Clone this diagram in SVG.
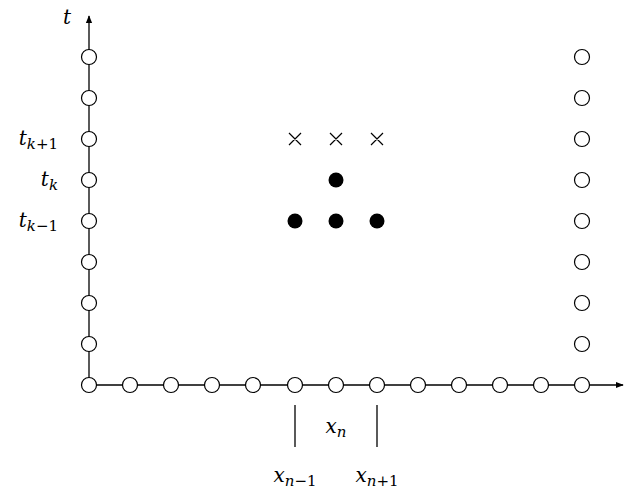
<svg xmlns="http://www.w3.org/2000/svg" width="631" height="491" viewBox="0 0 631 491">
<style>
.ax{stroke:#000;stroke-width:1.3;fill:none}
.o{fill:#fff;stroke:#000;stroke-width:1.2}
.f{fill:#000}
.x{stroke:#000;stroke-width:1.2}
.tk{stroke:#000;stroke-width:1.3}
text{font-family:"DejaVu Serif","Liberation Serif",serif;font-size:20px;fill:#000}
.i{font-style:italic}
.s{font-size:15px}
</style>
<defs>
<marker id="ah" viewBox="0 0 10 10" refX="9" refY="5" markerWidth="8" markerHeight="8" markerUnits="userSpaceOnUse" orient="auto"><path d="M0,1 L10,5 L0,9 Z" fill="#000"/></marker>
</defs>
<g id="connectors">
<line class="ax" x1="89" y1="385" x2="89" y2="16" marker-end="url(#ah)"/>
<line class="ax" x1="89" y1="385" x2="623" y2="385" marker-end="url(#ah)"/>
<line class="tk" x1="295" y1="405" x2="295" y2="447"/>
<line class="tk" x1="377" y1="405" x2="377" y2="447"/>
</g>
<g id="axis-nodes">
<circle class="o" cx="89" cy="385" r="7.5"/>
<circle class="o" cx="130" cy="385" r="7.5"/>
<circle class="o" cx="171" cy="385" r="7.5"/>
<circle class="o" cx="212" cy="385" r="7.5"/>
<circle class="o" cx="253" cy="385" r="7.5"/>
<circle class="o" cx="295" cy="385" r="7.5"/>
<circle class="o" cx="336" cy="385" r="7.5"/>
<circle class="o" cx="377" cy="385" r="7.5"/>
<circle class="o" cx="418" cy="385" r="7.5"/>
<circle class="o" cx="459" cy="385" r="7.5"/>
<circle class="o" cx="500" cy="385" r="7.5"/>
<circle class="o" cx="541" cy="385" r="7.5"/>
<circle class="o" cx="582" cy="385" r="7.5"/>
<circle class="o" cx="89" cy="344" r="7.5"/>
<circle class="o" cx="89" cy="303" r="7.5"/>
<circle class="o" cx="89" cy="262" r="7.5"/>
<circle class="o" cx="89" cy="221" r="7.5"/>
<circle class="o" cx="89" cy="180" r="7.5"/>
<circle class="o" cx="89" cy="139" r="7.5"/>
<circle class="o" cx="89" cy="98" r="7.5"/>
<circle class="o" cx="89" cy="57" r="7.5"/>
</g>
<g id="right-nodes">
<circle class="o" cx="582" cy="344" r="7.5"/>
<circle class="o" cx="582" cy="303" r="7.5"/>
<circle class="o" cx="582" cy="262" r="7.5"/>
<circle class="o" cx="582" cy="221" r="7.5"/>
<circle class="o" cx="582" cy="180" r="7.5"/>
<circle class="o" cx="582" cy="139" r="7.5"/>
<circle class="o" cx="582" cy="98" r="7.5"/>
<circle class="o" cx="582" cy="57" r="7.5"/>
</g>
<g id="stencil">
<path class="x" d="M289,133 L301,145 M301,133 L289,145 M330,133 L342,145 M342,133 L330,145 M371,133 L383,145 M383,133 L371,145"/>
<circle class="f" cx="336" cy="180" r="7.5"/>
<circle class="f" cx="295" cy="221" r="7.5"/>
<circle class="f" cx="336" cy="221" r="7.5"/>
<circle class="f" cx="377" cy="221" r="7.5"/>
</g>
<g id="labels">
<text class="i" x="63" y="24">t</text>
<text x="58" y="145" text-anchor="end"><tspan class="i">t</tspan><tspan class="i s" dy="4">k</tspan><tspan class="s">+1</tspan></text>
<text x="58" y="186" text-anchor="end"><tspan class="i">t</tspan><tspan class="i s" dy="4">k</tspan></text>
<text x="58" y="227" text-anchor="end"><tspan class="i">t</tspan><tspan class="i s" dy="4">k</tspan><tspan class="s">−1</tspan></text>
<text x="336" y="433" text-anchor="middle"><tspan class="i">x</tspan><tspan class="i s" dy="4">n</tspan></text>
<text x="295" y="482" text-anchor="middle"><tspan class="i">x</tspan><tspan class="i s" dy="4">n</tspan><tspan class="s">−1</tspan></text>
<text x="377" y="482" text-anchor="middle"><tspan class="i">x</tspan><tspan class="i s" dy="4">n</tspan><tspan class="s">+1</tspan></text>
</g>
</svg>
